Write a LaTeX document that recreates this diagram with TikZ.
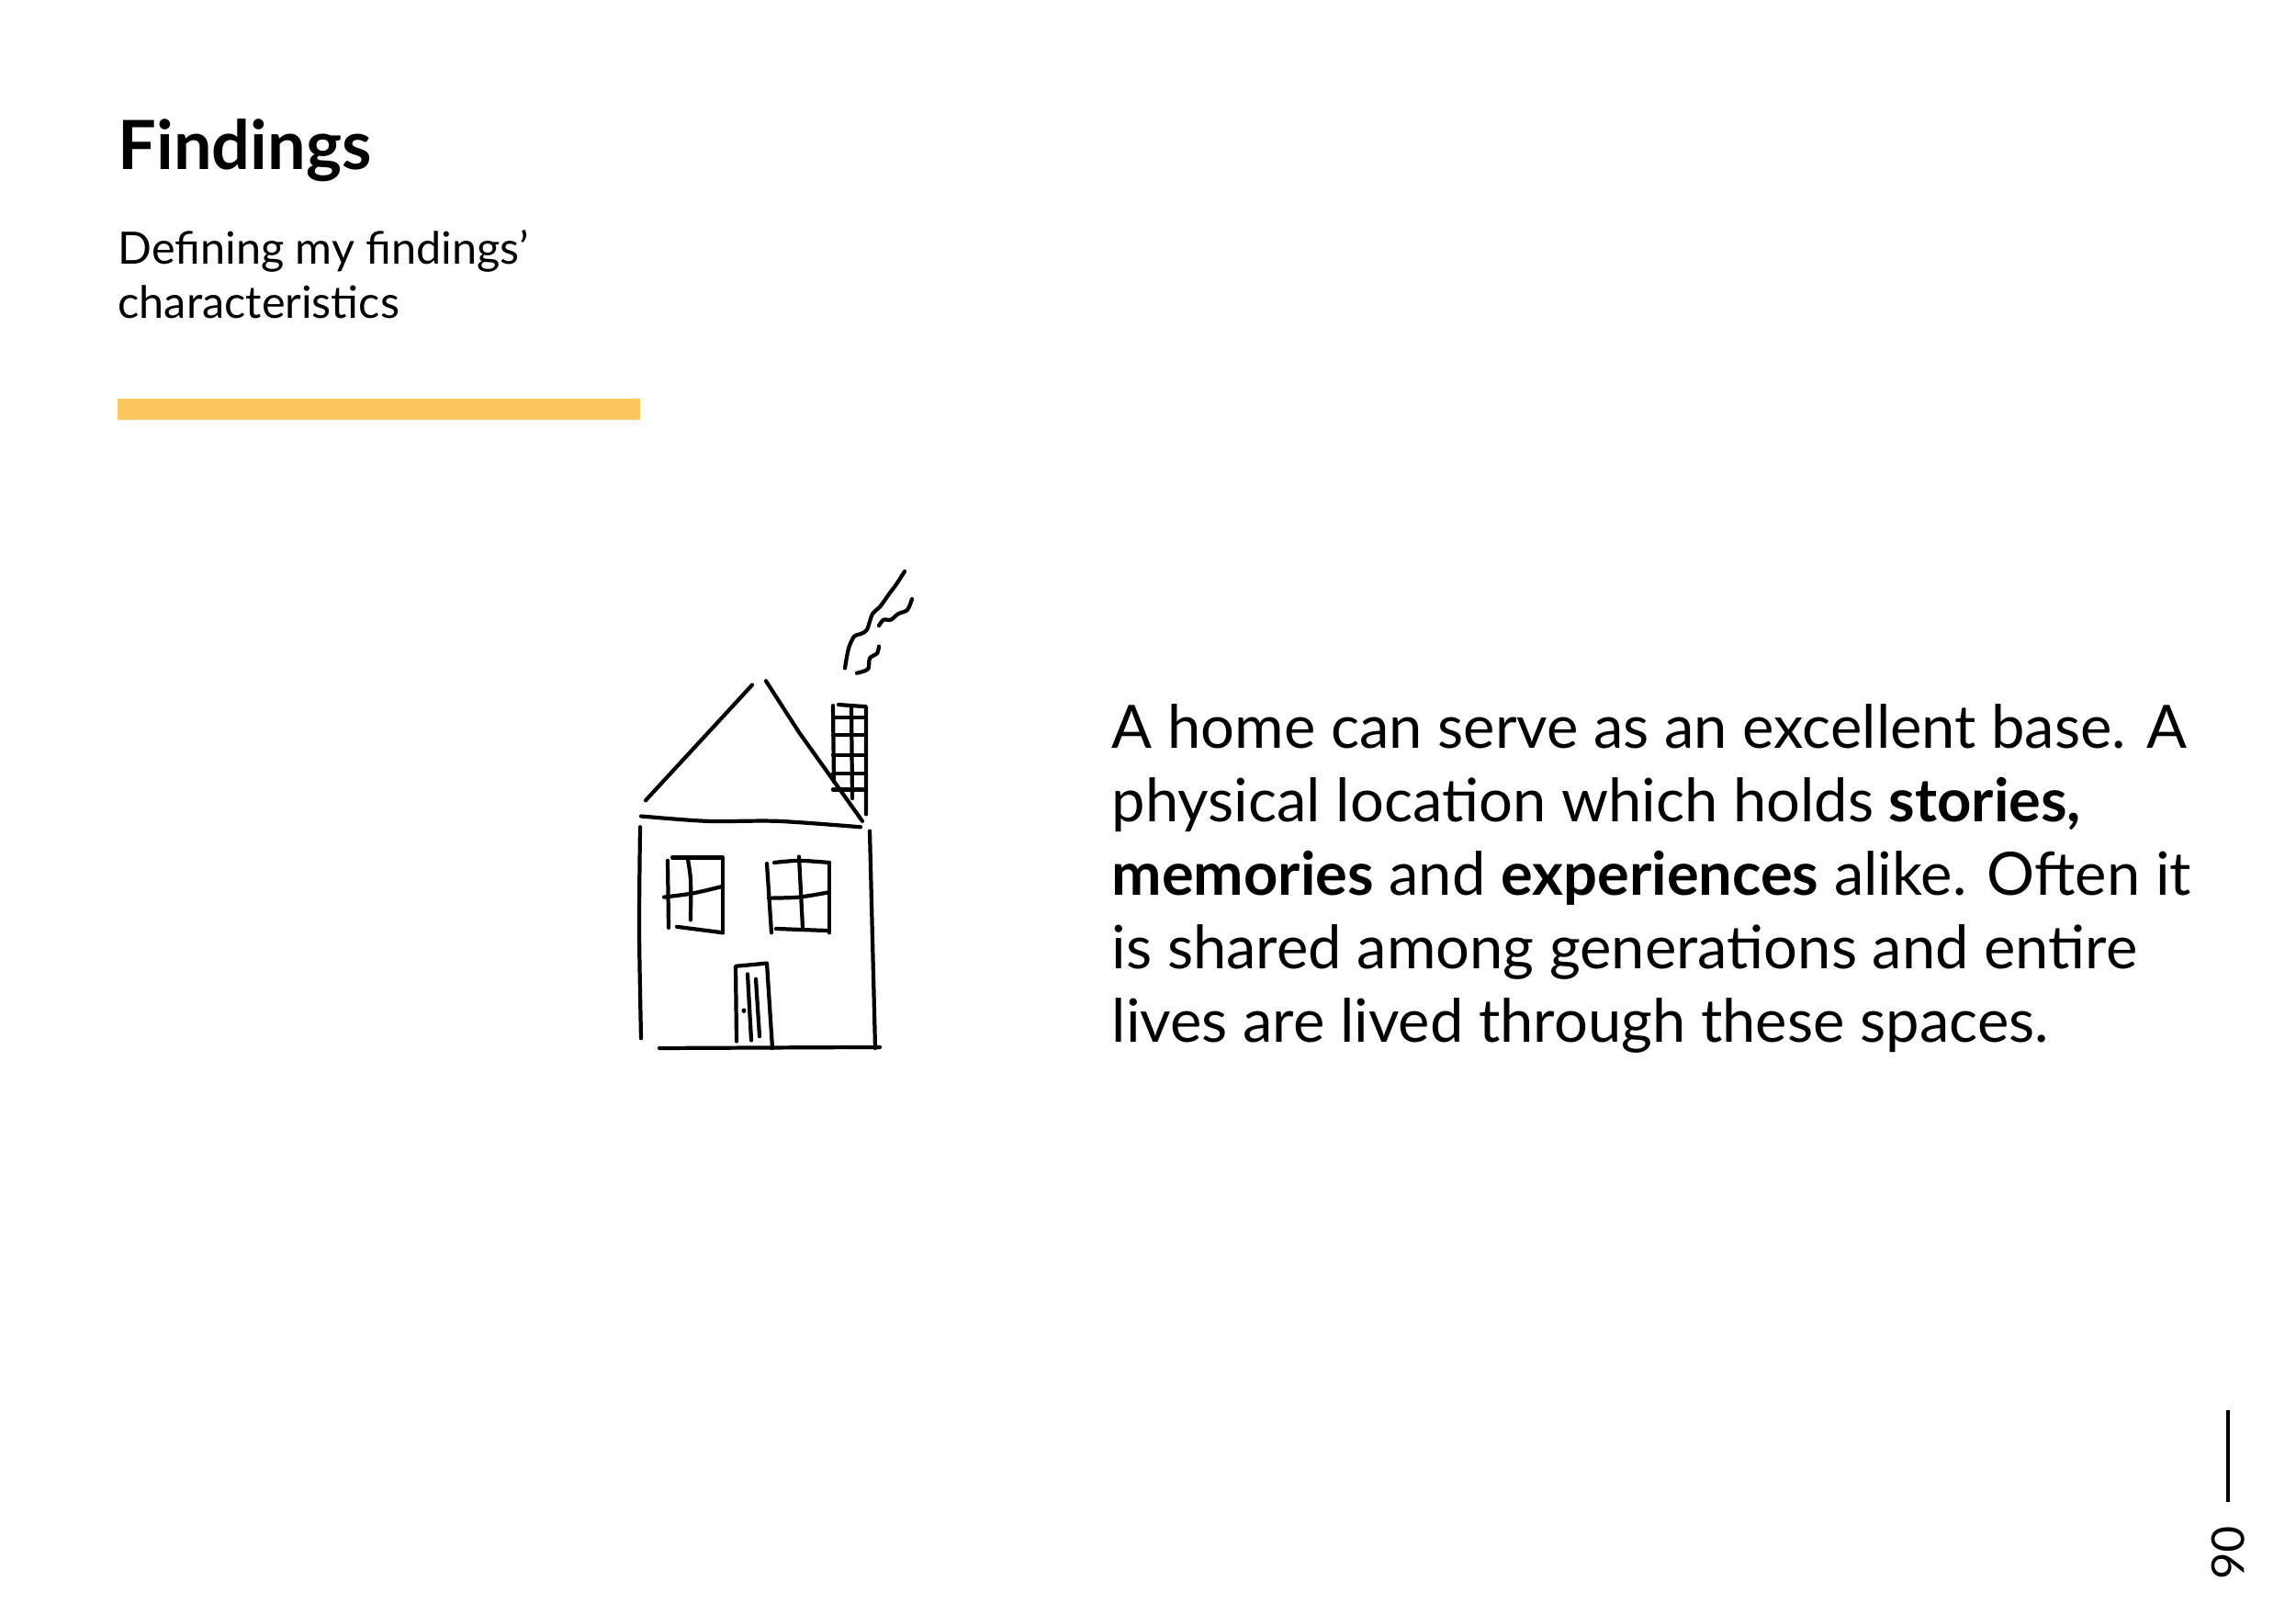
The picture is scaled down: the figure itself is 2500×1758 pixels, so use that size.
\documentclass[tikz,border=0pt]{standalone}
\usepackage{fontspec}
\setmainfont{Lato}
\definecolor{barYellow}{HTML}{FBC65E}
\tikzset{
  sketch/.style={line width=1.2pt, line cap=round, line join=round},
  bodytext/.style={anchor=base west, inner sep=0pt, font=\fontsize{18.5}{22}\selectfont}
}
\begin{document}
\begin{tikzpicture}[x=0.01cm, y=-0.01cm]
  \useasboundingbox (0,0) rectangle (2500,1758);

  % heading
  \node[anchor=base west, inner sep=0pt, font=\fontsize{21}{26}\selectfont\bfseries] (Title) at (128,185) {Findings};
  \node[anchor=base west, inner sep=0pt, font=\fontsize{13.8}{17}\selectfont] (SubOne) at (128,288) {Defining my findings’};
  \node[anchor=base west, inner sep=0pt, font=\fontsize{13.8}{17}\selectfont] (SubTwo) at (128,347) {characteristics};
  \fill[barYellow] (128,434) rectangle (697,457);

  % body text
  \node[bodytext] (LineA) at (1210,814) {A home can serve as an excellent base. A};
  \node[bodytext] (LineB) at (1210,894) {physical location which holds \textbf{stories,}};
  \node[bodytext] (LineC) at (1210,974) {\textbf{memories} and \textbf{experiences} alike. Often it};
  \node[bodytext] (LineD) at (1210,1054) {is shared among generations and entire};
  \node[bodytext] (LineE) at (1210,1134) {lives are lived through these spaces.};

  % page number
  \draw[line width=1.4pt] (2426,1535) -- (2426,1635);
  \node[rotate=-90, inner sep=0pt, font=\fontsize{14}{17}\selectfont] (PageNo) at (2426,1690) {06};

  % house
  \begin{scope}[shift={(0,622)}, yscale=1.0745, shift={(0,-617)}]
  \draw[sketch] (703,849) -- (819,732);
  \draw[sketch] (834,728) -- (870,780) -- (939,870);
  \draw[sketch] plot[smooth] coordinates {(698,865) (770,870) (847,870) (937,876)};
  \draw[sketch] plot[smooth] coordinates {(697,876) (696,980) (698,1090)};
  \draw[sketch] plot[smooth] coordinates {(947,880) (950,990) (953,1100)};
  \draw[sketch] (718,1100) -- (958,1099);
  % left window
  \draw[sketch] (727,910) -- (728,978);
  \draw[sketch] (732,907) -- (787,907) -- (787,983);
  \draw[sketch] (737,977) -- (787,983);
  \draw[sketch] plot[smooth] coordinates {(749,909) (752,930) (752,970)};
  \draw[sketch] plot[smooth] coordinates {(723,947) (755,943) (787,936)};
  % right window
  \draw[sketch] (835,913) -- (840,983);
  \draw[sketch] plot[smooth] coordinates {(843,912) (870,910) (903,912)};
  \draw[sketch] (903,912) -- (903,983);
  \draw[sketch] (845,979) -- (903,981);
  \draw[sketch] (870,906) -- (874,978);
  \draw[sketch] plot[smooth] coordinates {(837,948) (870,947) (903,942)};
  % door
  \draw[sketch] (802,1093) -- (801,1017) -- (835,1014) -- (841,1100);
  \draw[sketch] (814,1025) -- (818,1092);
  \draw[sketch] (823,1030) -- (827,1088);
  \fill (810,1062) circle (2.5);
  % chimney
  \draw[sketch] (907,753) -- (908,830);
  \draw[sketch] (913,752) -- (943,754) -- (943,863);
  \draw[sketch] (927,753) -- (928,847);
  \foreach \ry in {765,783,803,822,838}
    \draw[sketch] (907,\ry) -- (940,\ry);
  % smoke
  \draw[sketch] plot[smooth] coordinates {(920,715) (924,695) (930,683) (938,680) (944,676) (950,660) (958,653) (968,640) (976,630) (985,617)};
  \draw[sketch] plot[smooth] coordinates {(933,720) (945,716) (947,705) (955,700) (957,693)};
  \draw[sketch] plot[smooth] coordinates {(957,672) (962,666) (970,666) (978,660) (988,656) (993,645)};
  \end{scope}
\end{tikzpicture}
\end{document}
